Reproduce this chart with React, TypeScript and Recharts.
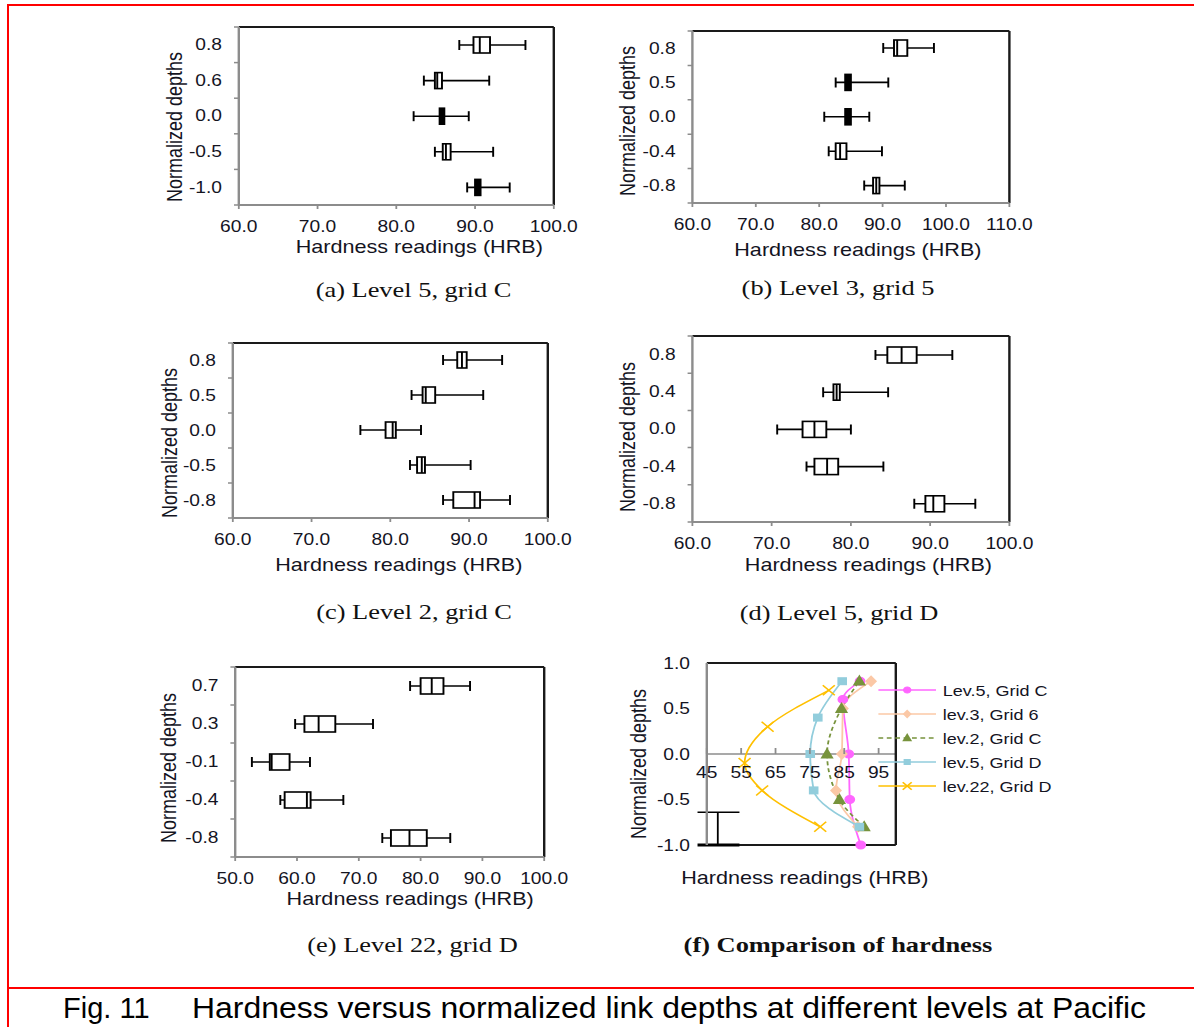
import { Bar, ComposedChart, Legend, Line, ReferenceLine, XAxis, YAxis } from "recharts";

// the original figure is stretched sideways, so the chart block is drawn narrow and widened
const S = 1.2;
const SANS = "'Liberation Sans', Arial, sans-serif";
const SERIF = "'Liberation Serif', 'Times New Roman', serif";
const INK = "#14141f";
const AXIS = "#8c8c8c";
const FRAME = "#1a1a1a";

const LEFT = 80;
const TOP = 14;
const RIGHT = 32;
const BOTTOM = 70;

// (a) Level 5, grid C
const depthsA = ["0.8", "0.6", "0.0", "-0.5", "-1.0"];
const lowA = [88.0, 83.5, 82.2, 84.9, 89.0];
const q1A = [89.8, 84.9, 85.5, 85.9, 90.0];
const medA = [90.6, 85.2, 85.8, 86.3, 90.3];
const q3A = [91.9, 85.8, 86.1, 86.9, 90.7];
const highA = [96.4, 91.8, 89.2, 92.3, 94.4];

// (b) Level 3, grid 5
const depthsB = ["0.8", "0.5", "0.0", "-0.4", "-0.8"];
const lowB = [90.1, 82.6, 80.8, 81.5, 87.1];
const q1B = [91.8, 84.1, 84.1, 82.6, 88.5];
const medB = [92.3, 84.6, 84.6, 83.3, 89.0];
const q3B = [93.9, 85.0, 85.0, 84.3, 89.5];
const highB = [98.1, 90.9, 87.9, 89.9, 93.5];

// (c) Level 2, grid C
const depthsC = ["0.8", "0.5", "0.0", "-0.5", "-0.8"];
const lowC = [86.7, 82.7, 76.2, 82.5, 86.7];
const q1C = [88.5, 84.1, 79.4, 83.4, 88.0];
const medC = [89.1, 84.5, 80.3, 84.0, 90.7];
const q3C = [89.7, 85.7, 80.7, 84.4, 91.4];
const highC = [94.2, 91.8, 83.9, 90.2, 95.2];

// (d) Level 5, grid D
const depthsD = ["0.8", "0.4", "0.0", "-0.4", "-0.8"];
const lowD = [83.1, 76.5, 70.7, 74.4, 88.0];
const q1D = [84.6, 77.8, 73.9, 75.4, 89.4];
const medD = [86.4, 78.2, 75.4, 77.0, 90.4];
const q3D = [88.3, 78.6, 76.9, 78.4, 91.8];
const highD = [92.8, 84.7, 80.0, 84.1, 95.7];

// (e) Level 22, grid D
const depthsE = ["0.7", "0.3", "-0.1", "-0.4", "-0.8"];
const lowE = [78.3, 59.7, 52.7, 57.3, 73.8];
const q1E = [80.0, 61.2, 55.6, 58.0, 75.2];
const medE = [81.8, 63.5, 55.9, 61.6, 78.2];
const q3E = [83.7, 66.2, 58.8, 62.2, 81.0];
const highE = [88.0, 72.3, 62.1, 67.5, 84.8];

const ticks60to100 = [60, 70, 80, 90, 100];
const ticks60to110 = [60, 70, 80, 90, 100, 110];
const ticks50to100 = [50, 60, 70, 80, 90, 100];

// (f) Comparison of hardness: mean hardness per depth
const fDepthA5 = [0.8, 0.6, 0.0, -0.5, -1.0];
const fHardA5 = [89.6, 84.6, 86.3, 86.6, 89.8];
const fDepthB3 = [0.8, 0.5, 0.0, -0.4, -0.8];
const fHardB3 = [92.8, 84.6, 84.3, 82.6, 89.0];
const fDepthC2 = [0.8, 0.5, 0.0, -0.5, -0.8];
const fHardC2 = [89.4, 84.2, 80.0, 83.6, 90.8];
const fDepthD5 = [0.8, 0.4, 0.0, -0.4, -0.8];
const fHardD5 = [84.4, 77.3, 75.1, 76.1, 89.4];
const fDepthE22 = [0.7, 0.3, -0.1, -0.4, -0.8];
const fHardE22 = [80.5, 62.7, 56.0, 61.1, 78.0];
const fXTicks = [45, 55, 65, 75, 85, 95];
const fYTicks = [-1, -0.5, 0, 0.5, 1];
// leftover error bar glyph in the lower-left corner of (f)
const strayBar = { x: 48.2, from: -1.0, to: -0.64, capFrom: 42.3, capTo: 54.5 };

function BoxShape(props: any) {
  const { x, y, width, height, payload } = props;
  const k = width / (payload.high - payload.low);
  const at = (v: number) => x + (v - payload.low) * k;
  const cy = y + height / 2;
  const b1 = at(payload.q1);
  const b3 = at(payload.q3);
  const m = at(payload.med);
  const narrow = b3 - b1 < 5;
  const sw = 1.6;
  return (
    <g>
      <line x1={x} x2={x + width} y1={cy} y2={cy} stroke="#000" strokeWidth={sw} />
      <line x1={x} x2={x} y1={cy - 5} y2={cy + 5} stroke="#000" strokeWidth={sw} />
      <line x1={x + width} x2={x + width} y1={cy - 5} y2={cy + 5} stroke="#000" strokeWidth={sw} />
      <rect x={b1} y={y} width={b3 - b1} height={height} fill={narrow ? "#000" : "#fff"} stroke="#000" strokeWidth={sw} />
      <line x1={m} x2={m} y1={y} y2={y + height} stroke="#000" strokeWidth={sw} />
    </g>
  );
}

const xTitle = (dx: number, dy: number) => (p: any) => {
  const vb = p.viewBox;
  return (
    <text x={vb.x + vb.width / 2 + dx / S} y={vb.y + dy} textAnchor="middle" dominantBaseline="central" fontSize={18} fontFamily={SANS} fill={INK}>
      Hardness readings (HRB)
    </text>
  );
};

const yTitle = (dx: number, dy: number) => (p: any) => {
  const vb = p.viewBox;
  const cx = vb.x + vb.width + dx / S;
  const cy = vb.y + vb.height / 2 + dy;
  return (
    <text x={cx} y={cy} transform={`rotate(-90 ${cx} ${cy})`} textAnchor="middle" dominantBaseline="central" fontSize={18} fontFamily={SANS} fill={INK}>
      Normalized depths
    </text>
  );
};

type BoxPanelProps = {
  depths: string[];
  low: number[];
  q1: number[];
  med: number[];
  q3: number[];
  high: number[];
  xTicks: number[];
  box: number[]; // page px: left, right, top, bottom of the plot frame
  xOff: number[];
  yOff: number[];
};

function BoxPanel({ depths, low, q1, med, q3, high, xTicks, box, xOff, yOff }: BoxPanelProps) {
  const n = depths.length;
  const data = depths.map((d, i) => ({
    pos: n - 0.5 - i,
    range: [low[i], high[i]],
    low: low[i],
    q1: q1[i],
    med: med[i],
    q3: q3[i],
    high: high[i],
  }));
  const plotW = (box[1] - box[0]) / S;
  const plotH = box[3] - box[2];
  const band = plotH / n;
  const xMax = xTicks[xTicks.length - 1];

  const yTick = (p: any) => {
    const v = p.payload.value;
    if (v >= n) return <g />;
    return (
      <text x={p.x} y={p.y - band / 2} textAnchor="end" dominantBaseline="central" fontSize={16} fontFamily={SANS} fill={INK}>
        {depths[n - 1 - v]}
      </text>
    );
  };

  return (
    <div style={{ position: "absolute", left: box[0] / S - LEFT, top: box[2] - TOP }}>
      <ComposedChart
        layout="vertical"
        width={plotW + LEFT + RIGHT}
        height={plotH + TOP + BOTTOM}
        data={data}
        margin={{ top: TOP, right: RIGHT, bottom: 0, left: 0 }}
      >
        <XAxis
          type="number"
          domain={[xTicks[0], xMax]}
          ticks={xTicks}
          interval={0}
          allowDataOverflow
          tickFormatter={(v: number) => v.toFixed(1)}
          height={BOTTOM}
          tickSize={4}
          tickMargin={12}
          tick={{ fontSize: 16, fontFamily: SANS, fill: INK }}
          axisLine={{ stroke: AXIS, strokeWidth: 2 }}
          tickLine={{ stroke: AXIS, strokeWidth: 1.5 }}
          label={xTitle(xOff[0], xOff[1])}
        />
        <YAxis
          type="number"
          dataKey="pos"
          domain={[0, n]}
          reversed
          ticks={Array.from({ length: n + 1 }, (_, i) => i)}
          interval={0}
          width={LEFT}
          tickSize={4}
          tickMargin={10}
          tick={yTick}
          axisLine={{ stroke: AXIS, strokeWidth: 2 }}
          tickLine={{ stroke: AXIS, strokeWidth: 1.5 }}
          label={yTitle(yOff[0], yOff[1])}
        />
        <ReferenceLine y={n} stroke={FRAME} strokeWidth={2} />
        <ReferenceLine x={xMax} stroke={FRAME} strokeWidth={2} />
        <Bar dataKey="range" barSize={16} shape={BoxShape} isAnimationActive={false} />
      </ComposedChart>
    </div>
  );
}

type Mark = "circle" | "diamond" | "triangle" | "square" | "cross";

function Marker({ cx, cy, kind, color, r }: { cx: number; cy: number; kind: Mark; color: string; r: number }) {
  if (kind === "circle") return <circle cx={cx} cy={cy} r={r} fill={color} stroke={color} />;
  if (kind === "square") return <rect x={cx - r} y={cy - r} width={2 * r} height={2 * r} fill={color} />;
  if (kind === "diamond")
    return <polygon points={`${cx},${cy - r * 1.2} ${cx + r},${cy} ${cx},${cy + r * 1.2} ${cx - r},${cy}`} fill={color} />;
  if (kind === "triangle")
    return <polygon points={`${cx},${cy - r * 1.2} ${cx + r},${cy + r * 0.8} ${cx - r},${cy + r * 0.8}`} fill={color} />;
  return (
    <g stroke={color} strokeWidth={1.4}>
      <line x1={cx - r} x2={cx + r} y1={cy - r} y2={cy + r} />
      <line x1={cx - r} x2={cx + r} y1={cy + r} y2={cy - r} />
    </g>
  );
}

const fSeries = [
  { name: "Lev.5, Grid C", depth: fDepthA5, hard: fHardA5, color: "#ff66ff", mark: "circle" as Mark, size: 4, dash: undefined },
  { name: "lev.3, Grid 6", depth: fDepthB3, hard: fHardB3, color: "#fbc8a6", mark: "diamond" as Mark, size: 5, dash: undefined },
  { name: "lev.2, Grid C", depth: fDepthC2, hard: fHardC2, color: "#77933c", mark: "triangle" as Mark, size: 5.5, dash: "4 3" },
  { name: "lev.5, Grid D", depth: fDepthD5, hard: fHardD5, color: "#92cddc", mark: "square" as Mark, size: 4, dash: undefined },
  { name: "lev.22, Grid D", depth: fDepthE22, hard: fHardE22, color: "#ffc000", mark: "cross" as Mark, size: 5, dash: undefined },
];

function ComparisonPanel() {
  const box = [707, 896, 663, 845];
  const plotW = (box[1] - box[0]) / S;
  const plotH = box[3] - box[2];
  const chartLeft = box[0] / S - LEFT;
  const chartTop = box[2] - TOP;
  const legendW = 220;

  const xTick = (p: any) => {
    const zeroY = p.y - plotH / 2;
    return (
      <g>
        <line x1={p.x} x2={p.x} y1={zeroY} y2={zeroY - 6} stroke={AXIS} strokeWidth={1.5} />
        <text x={p.x} y={zeroY + 19} textAnchor="middle" dominantBaseline="central" fontSize={16} fontFamily={SANS} fill={INK}>
          {p.payload.value}
        </text>
      </g>
    );
  };

  const legend = () => (
    <div style={{ fontFamily: SANS, fontSize: 15, color: INK }}>
      {fSeries.map((s) => (
        <div key={s.name} style={{ display: "flex", alignItems: "center", height: 24, whiteSpace: "nowrap" }}>
          <svg width={48} height={24} style={{ overflow: "visible" }}>
            <line x1={0} x2={48} y1={12} y2={12} stroke={s.color} strokeWidth={1.5} strokeDasharray={s.dash} />
            <Marker cx={24} cy={12} kind={s.mark} color={s.color} r={s.size * 0.75} />
          </svg>
          <span style={{ marginLeft: 6 }}>{s.name}</span>
        </div>
      ))}
    </div>
  );

  return (
    <div style={{ position: "absolute", left: chartLeft, top: chartTop }}>
      <ComposedChart
        layout="vertical"
        width={plotW + LEFT + legendW}
        height={plotH + TOP + BOTTOM}
        margin={{ top: TOP, right: legendW, bottom: 0, left: 0 }}
      >
        <XAxis
          type="number"
          dataKey="h"
          domain={[45, 100]}
          ticks={fXTicks}
          interval={0}
          height={BOTTOM}
          tickSize={0}
          tickMargin={0}
          tick={xTick}
          axisLine={false}
          tickLine={false}
          label={xTitle(3.5, 33)}
        />
        <YAxis
          type="number"
          dataKey="d"
          domain={[-1, 1]}
          reversed
          ticks={fYTicks}
          interval={0}
          width={LEFT}
          tickSize={4}
          tickMargin={10}
          tickFormatter={(v: number) => v.toFixed(1)}
          tick={{ fontSize: 16, fontFamily: SANS, fill: INK }}
          axisLine={{ stroke: AXIS, strokeWidth: 2 }}
          tickLine={false}
          label={yTitle(-68.5, 10)}
        />
        <ReferenceLine y={0} stroke={AXIS} strokeWidth={1.5} />
        <ReferenceLine y={1} stroke={FRAME} strokeWidth={2} />
        <ReferenceLine y={-1} stroke={FRAME} strokeWidth={2} />
        <ReferenceLine x={100} stroke={FRAME} strokeWidth={2} />
        <ReferenceLine
          segment={[{ x: strayBar.x, y: strayBar.from }, { x: strayBar.x, y: strayBar.to }]}
          stroke="#000"
          strokeWidth={1.5}
          ifOverflow="visible"
        />
        <ReferenceLine
          segment={[{ x: strayBar.capFrom, y: strayBar.to }, { x: strayBar.capTo, y: strayBar.to }]}
          stroke="#000"
          strokeWidth={1.5}
          ifOverflow="visible"
        />
        <ReferenceLine
          segment={[{ x: strayBar.capFrom, y: strayBar.from }, { x: strayBar.capTo, y: strayBar.from }]}
          stroke="#000"
          strokeWidth={3}
          ifOverflow="visible"
        />
        {fSeries.map((s) => (
          <Line
            key={s.name}
            name={s.name}
            data={s.depth.map((d, i) => ({ d, h: s.hard[i] })).reverse()}
            dataKey="h"
            type="monotone"
            stroke={s.color}
            strokeWidth={1.5}
            strokeDasharray={s.dash}
            dot={(p: any) => <Marker key={p.index} cx={p.cx} cy={p.cy} kind={s.mark} color={s.color} r={s.size} />}
            activeDot={false}
            isAnimationActive={false}
          />
        ))}
        <Legend
          layout="vertical"
          align="center"
          verticalAlign="middle"
          content={legend}
          wrapperStyle={{ left: 878 / S - chartLeft, top: 690 - 12 - chartTop, width: legendW }}
        />
      </ComposedChart>
    </div>
  );
}

const captions = [
  { text: "(a) Level 5, grid C", x: 413.5, y: 290, bold: false },
  { text: "(b) Level 3, grid 5", x: 838, y: 288, bold: false },
  { text: "(c) Level 2, grid C", x: 414, y: 612, bold: false },
  { text: "(d) Level 5, grid D", x: 839, y: 613, bold: false },
  { text: "(e) Level 22, grid D", x: 412.5, y: 945, bold: false },
  { text: "(f) Comparison of hardness", x: 838, y: 945, bold: true },
];

export default function App() {
  return (
    <div style={{ position: "absolute", left: 0, top: 0, width: 1194, height: 1027, background: "#fff", overflow: "hidden" }}>
      <div style={{ position: "absolute", left: 0, top: 0, width: 1194 / S, height: 1027, transform: `scaleX(${S})`, transformOrigin: "0 0" }}>
        <BoxPanel depths={depthsA} low={lowA} q1={q1A} med={medA} q3={q3A} high={highA} xTicks={ticks60to100} box={[239, 554, 27, 205]} xOff={[23, 42]} yOff={[-64, 11]} />
        <BoxPanel depths={depthsB} low={lowB} q1={q1B} med={medB} q3={q3B} high={highB} xTicks={ticks60to110} box={[692, 1009, 31, 203]} xOff={[7, 47]} yOff={[-65, 4]} />
        <BoxPanel depths={depthsC} low={lowC} q1={q1C} med={medC} q3={q3C} high={highC} xTicks={ticks60to100} box={[233, 548, 343, 518]} xOff={[8.5, 47]} yOff={[-63, 12.5]} />
        <BoxPanel depths={depthsD} low={lowD} q1={q1D} med={medD} q3={q3D} high={highD} xTicks={ticks60to100} box={[692, 1009, 336, 522]} xOff={[17.5, 42.5]} yOff={[-65, 8]} />
        <BoxPanel depths={depthsE} low={lowE} q1={q1E} med={medE} q3={q3E} high={highE} xTicks={ticks50to100} box={[235, 544, 667, 857]} xOff={[20.5, 41.5]} yOff={[-66.5, 6]} />
        <ComparisonPanel />
        {captions.map((c) => (
          <div
            key={c.text}
            style={{
              position: "absolute",
              left: c.x / S,
              top: c.y,
              transform: "translate(-50%, -50%)",
              fontFamily: SERIF,
              fontSize: 22,
              fontWeight: c.bold ? 700 : 400,
              color: "#111",
              whiteSpace: "nowrap",
            }}
          >
            {c.text}
          </div>
        ))}
      </div>
      <div style={{ position: "absolute", left: 7, top: 4, width: 2, height: 1023, background: "#ff0000" }} />
      <div style={{ position: "absolute", left: 7, top: 4, width: 1187, height: 2, background: "#ff0000" }} />
      <div style={{ position: "absolute", left: 7, top: 987, width: 1187, height: 2, background: "#ff0000" }} />
      <svg style={{ position: "absolute", left: 0, top: 990 }} width={1194} height={37}>
        <text x={63} y={28} fontFamily={SANS} fontSize={29} fill="#000">Fig. 11</text>
        <text x={192} y={28} fontFamily={SANS} fontSize={29} fill="#000" textLength={954} lengthAdjust="spacingAndGlyphs">
          Hardness versus normalized link depths at different levels at Pacific
        </text>
      </svg>
    </div>
  );
}
